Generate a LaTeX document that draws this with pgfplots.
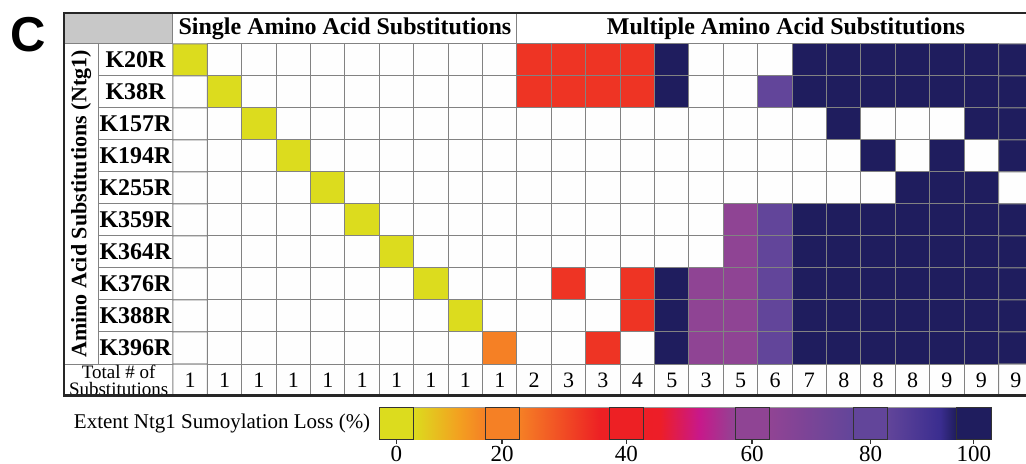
\documentclass[border=0pt]{standalone}
\usepackage{fontspec}
\setmainfont{Liberation Serif}
\newfontfamily\arialb{Liberation Sans}
\usepackage{pgfplots}
\pgfplotsset{compat=1.18}
\definecolor{hdr}{RGB}{200,200,200}
\definecolor{cY}{RGB}{220,220,30}
\definecolor{cO}{RGB}{245,128,37}
\definecolor{cR}{RGB}{238,52,36}
\definecolor{cRb}{RGB}{237,32,36}
\definecolor{cP}{RGB}{143,68,148}
\definecolor{cV}{RGB}{98,69,154}
\definecolor{cN}{RGB}{31,29,94}
\definecolor{gridc}{RGB}{130,130,130}
\begin{document}
\begin{tikzpicture}
\begin{axis}[at={(0,0)}, anchor=south west, scale only axis,
  width=513pt, height=232pt,
  xmin=-5.529, xmax=24.297, ymin=-1.875, ymax=12.625, y dir=reverse,
  hide axis,
  colormap={cellmap}{rgb255(0)=(220,220,30) rgb255(1)=(245,128,37) rgb255(2)=(238,52,36) rgb255(3)=(143,68,148) rgb255(4)=(98,69,154) rgb255(5)=(31,29,94) rgb255(6)=(255,255,255)},
  point meta min=0, point meta max=6]
% codes: 0 yellow(0%), 1 orange(~20%), 2 red(~40%), 3 purple(~60%), 4 violet(~80%), 5 navy(~100%), 6 white (not substituted)
\addplot[matrix plot*, mesh/cols=25, point meta=explicit, draw=gridc, line width=0.5pt] coordinates {
(0,0)[0] (1,0)[6] (2,0)[6] (3,0)[6] (4,0)[6] (5,0)[6] (6,0)[6] (7,0)[6] (8,0)[6] (9,0)[6] (10,0)[2] (11,0)[2] (12,0)[2] (13,0)[2] (14,0)[5] (15,0)[6] (16,0)[6] (17,0)[6] (18,0)[5] (19,0)[5] (20,0)[5] (21,0)[5] (22,0)[5] (23,0)[5] (24,0)[5]

(0,1)[6] (1,1)[0] (2,1)[6] (3,1)[6] (4,1)[6] (5,1)[6] (6,1)[6] (7,1)[6] (8,1)[6] (9,1)[6] (10,1)[2] (11,1)[2] (12,1)[2] (13,1)[2] (14,1)[5] (15,1)[6] (16,1)[6] (17,1)[4] (18,1)[5] (19,1)[5] (20,1)[5] (21,1)[5] (22,1)[5] (23,1)[5] (24,1)[5]

(0,2)[6] (1,2)[6] (2,2)[0] (3,2)[6] (4,2)[6] (5,2)[6] (6,2)[6] (7,2)[6] (8,2)[6] (9,2)[6] (10,2)[6] (11,2)[6] (12,2)[6] (13,2)[6] (14,2)[6] (15,2)[6] (16,2)[6] (17,2)[6] (18,2)[6] (19,2)[5] (20,2)[6] (21,2)[6] (22,2)[6] (23,2)[5] (24,2)[5]

(0,3)[6] (1,3)[6] (2,3)[6] (3,3)[0] (4,3)[6] (5,3)[6] (6,3)[6] (7,3)[6] (8,3)[6] (9,3)[6] (10,3)[6] (11,3)[6] (12,3)[6] (13,3)[6] (14,3)[6] (15,3)[6] (16,3)[6] (17,3)[6] (18,3)[6] (19,3)[6] (20,3)[5] (21,3)[6] (22,3)[5] (23,3)[6] (24,3)[5]

(0,4)[6] (1,4)[6] (2,4)[6] (3,4)[6] (4,4)[0] (5,4)[6] (6,4)[6] (7,4)[6] (8,4)[6] (9,4)[6] (10,4)[6] (11,4)[6] (12,4)[6] (13,4)[6] (14,4)[6] (15,4)[6] (16,4)[6] (17,4)[6] (18,4)[6] (19,4)[6] (20,4)[6] (21,4)[5] (22,4)[5] (23,4)[5] (24,4)[6]

(0,5)[6] (1,5)[6] (2,5)[6] (3,5)[6] (4,5)[6] (5,5)[0] (6,5)[6] (7,5)[6] (8,5)[6] (9,5)[6] (10,5)[6] (11,5)[6] (12,5)[6] (13,5)[6] (14,5)[6] (15,5)[6] (16,5)[3] (17,5)[4] (18,5)[5] (19,5)[5] (20,5)[5] (21,5)[5] (22,5)[5] (23,5)[5] (24,5)[5]

(0,6)[6] (1,6)[6] (2,6)[6] (3,6)[6] (4,6)[6] (5,6)[6] (6,6)[0] (7,6)[6] (8,6)[6] (9,6)[6] (10,6)[6] (11,6)[6] (12,6)[6] (13,6)[6] (14,6)[6] (15,6)[6] (16,6)[3] (17,6)[4] (18,6)[5] (19,6)[5] (20,6)[5] (21,6)[5] (22,6)[5] (23,6)[5] (24,6)[5]

(0,7)[6] (1,7)[6] (2,7)[6] (3,7)[6] (4,7)[6] (5,7)[6] (6,7)[6] (7,7)[0] (8,7)[6] (9,7)[6] (10,7)[6] (11,7)[2] (12,7)[6] (13,7)[2] (14,7)[5] (15,7)[3] (16,7)[3] (17,7)[4] (18,7)[5] (19,7)[5] (20,7)[5] (21,7)[5] (22,7)[5] (23,7)[5] (24,7)[5]

(0,8)[6] (1,8)[6] (2,8)[6] (3,8)[6] (4,8)[6] (5,8)[6] (6,8)[6] (7,8)[6] (8,8)[0] (9,8)[6] (10,8)[6] (11,8)[6] (12,8)[6] (13,8)[2] (14,8)[5] (15,8)[3] (16,8)[3] (17,8)[4] (18,8)[5] (19,8)[5] (20,8)[5] (21,8)[5] (22,8)[5] (23,8)[5] (24,8)[5]

(0,9)[6] (1,9)[6] (2,9)[6] (3,9)[6] (4,9)[6] (5,9)[6] (6,9)[6] (7,9)[6] (8,9)[6] (9,9)[1] (10,9)[6] (11,9)[6] (12,9)[2] (13,9)[6] (14,9)[5] (15,9)[3] (16,9)[3] (17,9)[4] (18,9)[5] (19,9)[5] (20,9)[5] (21,9)[5] (22,9)[5] (23,9)[5] (24,9)[5]

(0,10)[6] (1,10)[6] (2,10)[6] (3,10)[6] (4,10)[6] (5,10)[6] (6,10)[6] (7,10)[6] (8,10)[6] (9,10)[6] (10,10)[6] (11,10)[6] (12,10)[6] (13,10)[6] (14,10)[6] (15,10)[6] (16,10)[6] (17,10)[6] (18,10)[6] (19,10)[6] (20,10)[6] (21,10)[6] (22,10)[6] (23,10)[6] (24,10)[6]
};
% header
\fill[hdr] (axis cs:-3.669,-1.47) rectangle (axis cs:-0.5,-0.5);
\draw[gridc, line width=0.5pt] (axis cs:-3.669,-0.5) -- (axis cs:-0.5,-0.5);
\draw[gridc, line width=0.5pt] (axis cs:-3.669,9.5) -- (axis cs:-0.5,9.5);
\draw[gridc, line width=0.5pt] (axis cs:-2.68,-0.5) -- (axis cs:-2.68,9.5);
\draw[gridc, line width=0.5pt] (axis cs:-0.5,-1.47) -- (axis cs:-0.5,-0.5);
\draw[gridc, line width=0.5pt] (axis cs:9.5,-1.47) -- (axis cs:9.5,-0.5);
\pgfplotsinvokeforeach{0,...,8}{\draw[gridc, line width=0.5pt] (axis cs:-2.68,#1+0.5) -- (axis cs:-0.5,#1+0.5);}
% texts
\node[font=\bfseries\fontsize{12}{12}\selectfont] at (axis cs:4.5,-0.985) {Single Amino Acid Substitutions};
\node[font=\bfseries\fontsize{12}{12}\selectfont] at (axis cs:17.32,-0.985) {Multiple Amino Acid Substitutions};
\node[rotate=90, font=\bfseries\fontsize{11}{12}\selectfont] at (axis cs:-3.17,4.5) {Amino Acid Substitutions (Ntg1)};
\node[font=\fontsize{9.5}{8.2}\selectfont, align=center] at (axis cs:-2.08,10.01) {Total \# of\\Substitutions};
\node[font=\arialb\bfseries\fontsize{24.5}{25}\selectfont] at (axis cs:-4.715,-0.78) {C};
\node[font=\bfseries\fontsize{12}{12}\selectfont] at (axis cs:-1.59,0) {K20R};
\node[font=\bfseries\fontsize{12}{12}\selectfont] at (axis cs:-1.59,1) {K38R};
\node[font=\bfseries\fontsize{12}{12}\selectfont] at (axis cs:-1.59,2) {K157R};
\node[font=\bfseries\fontsize{12}{12}\selectfont] at (axis cs:-1.59,3) {K194R};
\node[font=\bfseries\fontsize{12}{12}\selectfont] at (axis cs:-1.59,4) {K255R};
\node[font=\bfseries\fontsize{12}{12}\selectfont] at (axis cs:-1.59,5) {K359R};
\node[font=\bfseries\fontsize{12}{12}\selectfont] at (axis cs:-1.59,6) {K364R};
\node[font=\bfseries\fontsize{12}{12}\selectfont] at (axis cs:-1.59,7) {K376R};
\node[font=\bfseries\fontsize{12}{12}\selectfont] at (axis cs:-1.59,8) {K388R};
\node[font=\bfseries\fontsize{12}{12}\selectfont] at (axis cs:-1.59,9) {K396R};
% totals
\pgfplotsinvokeforeach{0,...,9}{\node[font=\fontsize{11}{11}\selectfont] at (axis cs:#1,10) {1};}
\node[font=\fontsize{11}{11}\selectfont] at (axis cs:10,10) {2};
\node[font=\fontsize{11}{11}\selectfont] at (axis cs:11,10) {3};
\node[font=\fontsize{11}{11}\selectfont] at (axis cs:12,10) {3};
\node[font=\fontsize{11}{11}\selectfont] at (axis cs:13,10) {4};
\node[font=\fontsize{11}{11}\selectfont] at (axis cs:14,10) {5};
\node[font=\fontsize{11}{11}\selectfont] at (axis cs:15,10) {3};
\node[font=\fontsize{11}{11}\selectfont] at (axis cs:16,10) {5};
\node[font=\fontsize{11}{11}\selectfont] at (axis cs:17,10) {6};
\node[font=\fontsize{11}{11}\selectfont] at (axis cs:18,10) {7};
\node[font=\fontsize{11}{11}\selectfont] at (axis cs:19,10) {8};
\node[font=\fontsize{11}{11}\selectfont] at (axis cs:20,10) {8};
\node[font=\fontsize{11}{11}\selectfont] at (axis cs:21,10) {8};
\node[font=\fontsize{11}{11}\selectfont] at (axis cs:22,10) {9};
\node[font=\fontsize{11}{11}\selectfont] at (axis cs:23,10) {9};
\node[font=\fontsize{11}{11}\selectfont] at (axis cs:24,10) {9};
% frame
\draw[line width=1.3pt, black!85] (axis cs:24.297,-1.47) -- (axis cs:-3.669,-1.47) -- (axis cs:-3.669,10.48) -- (axis cs:24.297,10.48);
\end{axis}
% colour bar (drawn in the legend's own layout; ticks sit at the key boxes)
\begin{axis}[at={(189.65pt,12.15pt)}, anchor=south west, scale only axis,
  width=305.85pt, height=16.2pt, clip=false,
  xmin=0, xmax=611.7, ymin=0, ymax=1,
  axis x line*=bottom, axis y line=none,
  xtick={17,122.7,247,372.7,491.2,594.5},
  xticklabels={0,20,40,60,80,100},
  ytick=\empty,
  tick align=outside, major tick length=2pt,
  tick style={black!80, line width=0.6pt},
  x axis line style={black!80, line width=0.6pt, -},
  xticklabel style={font=\fontsize{11.5}{12}\selectfont, inner sep=1pt},
  /pgf/number format/assume math mode=true,
  colormap={grad}{rgb255(0)=(220,220,30) rgb255(34)=(220,220,30) rgb255(80)=(243,160,32) rgb255(106)=(245,128,37) rgb255(140)=(245,128,37) rgb255(221)=(237,32,36) rgb255(281)=(237,30,40) rgb255(320)=(200,24,138) rgb255(356)=(145,68,148) rgb255(390)=(145,68,148) rgb255(474)=(98,69,154) rgb255(508)=(98,69,154) rgb255(561)=(58,45,143) rgb255(577)=(31,29,92) rgb255(611.7)=(31,29,92)},
  point meta min=0, point meta max=611.7]
\addplot[surf, shader=interp, point meta=x] coordinates {
(0,0) (611.7,0)

(0,1) (611.7,1)
};
\draw[black!40, line width=0.7pt] (axis cs:0,1) -- (axis cs:611.7,1);
\draw[black!80, line width=0.5pt, fill=cY] (axis cs:0,0) rectangle (axis cs:34,1);
\draw[black!80, line width=0.5pt, fill=cO] (axis cs:105.7,0) rectangle (axis cs:140,1);
\draw[black!80, line width=0.5pt, fill=cRb] (axis cs:230,0) rectangle (axis cs:264,1);
\draw[black!80, line width=0.5pt, fill=cP] (axis cs:355.7,0) rectangle (axis cs:390,1);
\draw[black!80, line width=0.5pt, fill=cV] (axis cs:474,0) rectangle (axis cs:508.4,1);
\draw[black!80, line width=0.5pt, fill=cN] (axis cs:577.4,0) rectangle (axis cs:611.7,1);
\node[anchor=east, font=\fontsize{10.5}{12}\selectfont] at ([xshift=-1pt]axis cs:0,0.5) {Extent Ntg1 Sumoylation Loss (\%)};
\end{axis}
\pgfresetboundingbox
\useasboundingbox (0,0) rectangle (513pt,232pt);
\end{tikzpicture}
\end{document}
